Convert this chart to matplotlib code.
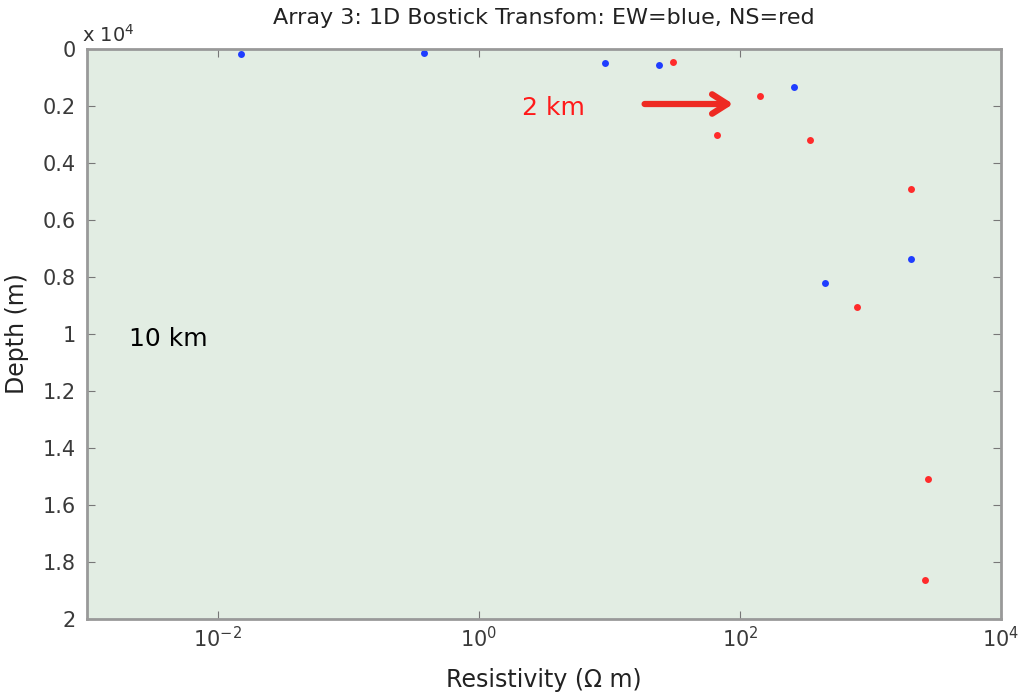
import matplotlib
matplotlib.use("Agg")
import matplotlib.pyplot as plt
from matplotlib.ticker import FixedLocator, FuncFormatter, NullLocator

# EW (blue) and NS (red) Bostick transform points: resistivity (ohm m), depth (m)
ew_res = [0.015, 0.38, 9.3, 24, 262, 2030, 445]
ew_depth = [175, 140, 490, 560, 1330, 7370, 8210]
ns_res = [31, 143, 67, 347, 2030, 795, 2780, 2640]
ns_depth = [456, 1650, 3020, 3190, 4910, 9050, 15090, 18630]

x_ticks = [1e-2, 1e0, 1e2, 1e4]
x_tick_labels = ["$10^{-2}$", "$10^{0}$", "$10^{2}$", "$10^{4}$"]
y_ticks = [0, 2000, 4000, 6000, 8000, 10000, 12000, 14000, 16000, 18000, 20000]

plt.rcParams['font.family'] = ['DejaVu Sans']

fig = plt.figure(figsize=(10.25, 6.98), dpi=100)
ax = fig.add_axes([0.0849, 0.1132, 0.8917, 0.8166])
ax.set_facecolor("#e2ede3")

ax.plot(ew_res, ew_depth, 'o', color="#1f3dff", markersize=5, markeredgewidth=0)
ax.plot(ns_res, ns_depth, 'o', color="#ff2b2b", markersize=5, markeredgewidth=0)

ax.set_xscale('log')
ax.set_xlim(1e-3, 1e4)
ax.set_ylim(20000, 0)

ax.xaxis.set_major_locator(FixedLocator(x_ticks))
ax.xaxis.set_minor_locator(NullLocator())
ax.set_xticklabels(x_tick_labels)
ax.set_yticks(y_ticks)
ax.yaxis.set_major_formatter(FuncFormatter(lambda v, p: "%g" % (v / 1e4)))

ax.tick_params(direction='in', top=True, right=True, length=6, color="#777777",
               labelcolor="#3a3a3a")
ax.tick_params(axis='y', labelsize=15, pad=8)
ax.tick_params(axis='x', labelsize=15, pad=5)
for s in ax.spines.values():
    s.set_color("#999999")
    s.set_linewidth(2)

ax.text(-0.005, 1.005, r"x 10$^4$", transform=ax.transAxes, fontsize=14,
        color="#333333", ha='left', va='bottom')

ax.set_xlabel("Resistivity (Ω m)", fontsize=17, color="#222222", labelpad=12)
ax.set_ylabel("Depth (m)", fontsize=17, color="#222222", labelpad=10)
ax.set_title("Array 3: 1D Bostick Transfom: EW=blue, NS=red", fontsize=16,
             color="#222222", pad=18)

# annotations
ax.annotate("", xy=(0.71, 0.9035), xytext=(0.607, 0.9035), xycoords='axes fraction',
            arrowprops=dict(arrowstyle='->,head_length=1.1,head_width=0.7',
                            color="#ee2a22", lw=4.5))
ax.text(0.51, 0.896, "2 km", transform=ax.transAxes, fontsize=18, color="#ff1a1a",
        ha='center', va='center')
ax.text(0.089, 0.491, "10 km", transform=ax.transAxes, fontsize=18, color="black",
        ha='center', va='center')

fig.savefig("out.png", dpi=100)
